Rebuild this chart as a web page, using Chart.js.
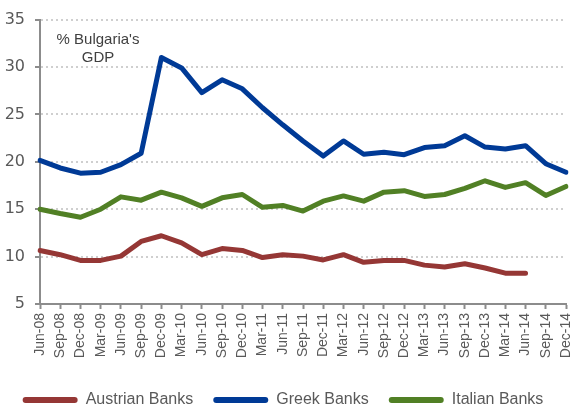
<!DOCTYPE html>
<html>
<head>
<meta charset="utf-8">
<script src="https://cdn.jsdelivr.net/npm/chart.js@4"></script>
<style>
  html, body { margin: 0; padding: 0; background: #fff; }
  #wrap { width: 570px; height: 408px; }
</style>
</head>
<body>
<div id="wrap"><canvas id="chart" width="570" height="408"></canvas></div>
<script>
// Quarterly labels
const quarters = [
  "Jun-08", "Sep-08", "Dec-08", "Mar-09", "Jun-09", "Sep-09", "Dec-09",
  "Mar-10", "Jun-10", "Sep-10", "Dec-10", "Mar-11", "Jun-11", "Sep-11", "Dec-11",
  "Mar-12", "Jun-12", "Sep-12", "Dec-12", "Mar-13", "Jun-13", "Sep-13", "Dec-13",
  "Mar-14", "Jun-14", "Sep-14", "Dec-14"
];

// Claims of foreign banks, % of Bulgaria's GDP
const austrianBanks = [
  10.65, 10.2, 9.6, 9.6, 10.05, 11.6, 12.2,
  11.45, 10.2, 10.85, 10.65, 9.9, 10.2, 10.05, 9.65,
  10.2, 9.4, 9.6, 9.6, 9.1, 8.9, 9.25, 8.8,
  8.25, 8.25, null, null
];
const greekBanks = [
  20.15, 19.35, 18.8, 18.9, 19.7, 20.9, 31.0,
  29.9, 27.3, 28.65, 27.7, 25.7, 23.9, 22.2, 20.6,
  22.2, 20.8, 21.0, 20.75, 21.5, 21.7, 22.75, 21.55,
  21.35, 21.7, 19.8, 18.9
];
const italianBanks = [
  15.0, 14.55, 14.15, 15.0, 16.3, 15.95, 16.8,
  16.2, 15.3, 16.2, 16.55, 15.2, 15.4, 14.8, 15.85,
  16.4, 15.85, 16.8, 16.95, 16.35, 16.55, 17.2, 18.0,
  17.3, 17.8, 16.45, 17.4
];

const seriesNames = ["Austrian Banks", "Greek Banks", "Italian Banks"];
const seriesColors = ["#953735", "#003A96", "#518025"];
const noteLines = ["% Bulgaria's", "GDP"];

const textColor = '#595959';
const axisColor = '#8c8c8c';

function makeDataset(label, data, color) {
  return {
    label: label,
    data: data,
    borderColor: color,
    backgroundColor: color,
    borderWidth: 5,
    borderCapStyle: 'round',
    borderJoinStyle: 'round',
    pointRadius: 0,
    tension: 0,
    spanGaps: false
  };
}

// Draws the "% Bulgaria's GDP" note in the top left of the plot
const notePlugin = {
  id: 'note',
  afterDraw(chart) {
    const ctx = chart.ctx;
    ctx.save();
    ctx.font = '15px "Liberation Sans", Arial, sans-serif';
    ctx.fillStyle = '#404040';
    ctx.textAlign = 'center';
    ctx.textBaseline = 'middle';
    ctx.fillText(noteLines[0], 98, 40);
    ctx.fillText(noteLines[1], 98, 58);
    ctx.restore();
  }
};

new Chart(document.getElementById('chart'), {
  type: 'line',
  data: {
    labels: quarters,
    datasets: [
      makeDataset(seriesNames[0], austrianBanks, seriesColors[0]),
      makeDataset(seriesNames[1], greekBanks, seriesColors[1]),
      makeDataset(seriesNames[2], italianBanks, seriesColors[2])
    ]
  },
  options: {
    responsive: false,
    animation: false,
    layout: { padding: { top: 18, right: 4, left: 0, bottom: -10 } },
    plugins: {
      title: { display: false },
      tooltip: { enabled: false },
      legend: {
        position: 'bottom',
        labels: {
          boxWidth: 55,
          boxHeight: 6,
          padding: 20,
          color: textColor,
          font: { family: '"Liberation Sans", Arial, sans-serif', size: 16 },
          useBorderRadius: true,
          borderRadius: 3,
          generateLabels(chart) {
            return Chart.defaults.plugins.legend.labels.generateLabels(chart)
              .map(item => ({ ...item, lineWidth: 0 }));
          }
        }
      }
    },
    scales: {
      x: {
        grid: {
          drawOnChartArea: false,
          drawTicks: true,
          tickLength: 5,
          tickColor: axisColor,
          tickWidth: 2
        },
        border: { color: axisColor, width: 2 },
        ticks: {
          autoSkip: false,
          maxRotation: 90,
          minRotation: 90,
          padding: 4,
          color: textColor,
          font: { family: '"Liberation Sans", Arial, sans-serif', size: 14 }
        },
        afterFit(scale) {
          scale.height = 68;
          scale.paddingLeft = 0;
          scale.paddingRight = 0;
        }
      },
      y: {
        min: 5,
        max: 35,
        grid: {
          color: '#cfcfcf',
          lineWidth: 2,
          drawTicks: true,
          tickLength: 5,
          tickColor: axisColor,
          tickWidth: 2,
          tickBorderDash: []
        },
        border: { color: axisColor, width: 2, dash: [2, 3] },
        ticks: {
          stepSize: 5,
          padding: 10,
          color: textColor,
          font: { family: '"DejaVu Sans", sans-serif', size: 16 }
        },
        afterFit(scale) {
          scale.width = 40;
        }
      }
    }
  },
  plugins: [notePlugin]
});
</script>
</body>
</html>
